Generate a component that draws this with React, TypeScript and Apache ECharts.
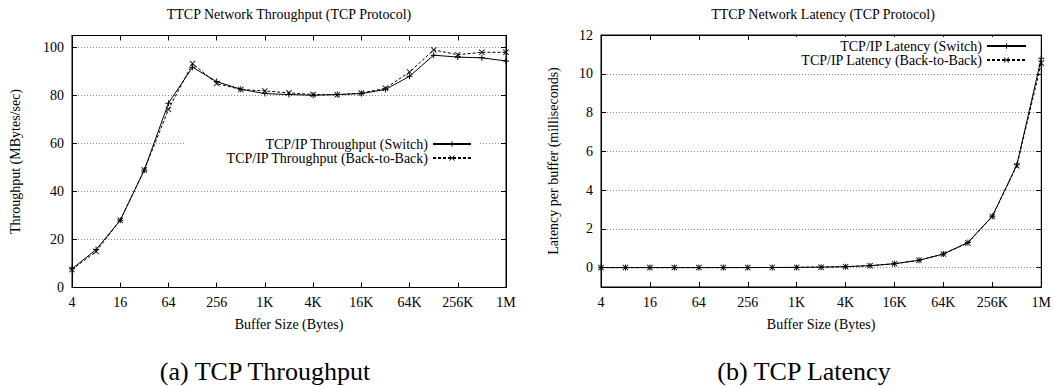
import React, { useEffect, useRef } from "react";
import * as echarts from "echarts";

const FONT = "Liberation Serif, serif";

const bufferSizes = [
  4, 8, 16, 32, 64, 128, 256, 512, 1024, 2048, 4096, 8192, 16384, 32768,
  65536, 131072, 262144, 524288, 1048576,
];

const throughputSwitch = [
  7.8, 15.8, 28, 49, 76.8, 91.8, 85.8, 82.6, 80.8, 80.4, 80.1, 80.4, 80.8,
  82.5, 88, 96.8, 96, 95.7, 94.4,
];
const throughputBackToBack = [
  7.5, 15, 28, 49, 74.2, 93.3, 85, 82.5, 81.9, 81.1, 80.4, 80.3, 81, 83, 89.8,
  99, 97, 98, 98,
];

const latencySwitch = [
  0.0005, 0.0005, 0.0006, 0.0007, 0.0008, 0.0014, 0.003, 0.006, 0.012, 0.025,
  0.05, 0.1, 0.2, 0.38, 0.7, 1.3, 2.65, 5.3, 10.8,
];
const latencyBackToBack = [
  0.0005, 0.0005, 0.0006, 0.0007, 0.0009, 0.0013, 0.003, 0.006, 0.012, 0.025,
  0.05, 0.1, 0.2, 0.38, 0.7, 1.27, 2.64, 5.25, 10.55,
];

const seriesNames = [
  "TCP/IP Throughput (Switch)",
  "TCP/IP Throughput (Back-to-Back)",
  "TCP/IP Latency (Switch)",
  "TCP/IP Latency (Back-to-Back)",
];

const titles = [
  "TTCP Network Throughput (TCP Protocol)",
  "TTCP Network Latency (TCP Protocol)",
];
const captions = ["(a) TCP Throughput", "(b) TCP Latency"];
const xAxisName = "Buffer Size (Bytes)";
const yAxisNames = ["Throughput (MBytes/sec)", "Latency per buffer (milliseconds)"];

const PLUS =
  "path://M0,0.42L1,0.42L1,0.58L0,0.58Z M0.42,0L0.58,0L0.58,1L0.42,1Z";
const CROSS =
  "path://M0.1,0L0.5,0.4L0.9,0L1,0.1L0.6,0.5L1,0.9L0.9,1L0.5,0.6L0.1,1L0,0.9L0.4,0.5L0,0.1Z";

function sizeLabel(v: number): string {
  const s = Math.round(Math.pow(2, v));
  if (s >= 1048576) return s / 1048576 + "M";
  if (s >= 1024) return s / 1024 + "K";
  return String(s);
}

function toPoints(values: number[]) {
  return bufferSizes.map((s, i) => [Math.log2(s), values[i]]);
}

export default function App() {
  const ref = useRef<HTMLDivElement>(null);
  useEffect(() => {
    if (!ref.current) return;
    const chart = echarts.init(ref.current, undefined, { renderer: "svg" });
    const black = "#000";
    const labelStyle = { color: black, fontSize: 14, fontFamily: FONT };
    const gridLine = {
      show: true,
      lineStyle: { color: "#8a8a8a", type: [1, 2] as any, width: 1 },
    };
    const tick = { show: true, inside: true, length: 5, lineStyle: { color: black } };
    const mainX = (gridIndex: number) => ({
      gridIndex,
      type: "value",
      min: 2,
      max: 20,
      interval: 2,
      position: "bottom",
      z: 3,
      name: xAxisName,
      nameLocation: "middle",
      nameGap: 30,
      nameTextStyle: labelStyle,
      axisLine: { show: true, onZero: false, lineStyle: { color: black, width: 1 } },
      axisTick: tick,
      axisLabel: { ...labelStyle, margin: 8, formatter: sizeLabel },
      splitLine: { show: false },
    });
    const mirrorX = (gridIndex: number) => ({
      gridIndex,
      type: "value",
      min: 2,
      max: 20,
      interval: 2,
      position: "top",
      z: 3,
      axisLine: { show: true, onZero: false, lineStyle: { color: black, width: 1 } },
      axisTick: tick,
      axisLabel: { show: false },
      splitLine: { show: false },
    });
    const grid = (left: number, top: number, width: number) => ({
      left,
      top,
      width,
      height: 252,
      show: true,
      borderColor: black,
      borderWidth: 1,
      backgroundColor: "transparent",
    });
    const line = (
      name: string,
      axis: number,
      values: number[],
      symbol: string,
      dashed: boolean
    ) => ({
      name,
      type: "line",
      xAxisIndex: axis,
      yAxisIndex: axis,
      data: toPoints(values),
      symbol,
      symbolSize: 6,
      clip: false,
      z: 4,
      lineStyle: { color: black, width: 1, type: dashed ? [3, 2] : "solid" },
      itemStyle: { color: black },
    });
    const option: any = {
      animation: false,
      textStyle: { fontFamily: FONT },
      grid: [grid(72, 35.5, 434), grid(601, 35, 442)],
      xAxis: [mainX(0), mirrorX(0), mainX(1), mirrorX(1)],
      yAxis: [
        {
          gridIndex: 0,
          type: "value",
          min: 0,
          max: 105,
          interval: 20,
          position: "left",
          name: yAxisNames[0],
          nameLocation: "middle",
          nameGap: 50,
          nameTextStyle: labelStyle,
          axisLine: { show: true, onZero: false, lineStyle: { color: black } },
          axisTick: tick,
          axisLabel: {
            ...labelStyle,
            margin: 8,
            formatter: (v: number) => (v % 20 === 0 ? String(v) : ""),
          },
          splitLine: gridLine,
        },
        {
          gridIndex: 0,
          type: "value",
          min: 0,
          max: 105,
          interval: 20,
          position: "right",
          axisLine: { show: true, onZero: false, lineStyle: { color: black } },
          axisTick: tick,
          axisLabel: { show: false },
          splitLine: { show: false },
        },
        {
          gridIndex: 1,
          type: "value",
          min: -1,
          max: 12,
          splitNumber: 6,
          position: "left",
          name: yAxisNames[1],
          nameLocation: "middle",
          nameGap: 41,
          nameTextStyle: labelStyle,
          axisLine: { show: true, onZero: false, lineStyle: { color: black } },
          axisTick: tick,
          axisLabel: {
            ...labelStyle,
            margin: 8,
            formatter: (v: number) => (v % 2 === 0 ? String(v) : ""),
          },
          splitLine: gridLine,
        },
        {
          gridIndex: 1,
          type: "value",
          min: -1,
          max: 12,
          splitNumber: 6,
          position: "right",
          axisLine: { show: true, onZero: false, lineStyle: { color: black } },
          axisTick: tick,
          axisLabel: { show: false },
          splitLine: { show: false },
        },
      ],
      legend: [
        {
          data: [seriesNames[0], seriesNames[1]],
          orient: "vertical",
          align: "right",
          right: 574,
          top: 135,
          itemWidth: 38,
          itemHeight: 7,
          itemGap: 0,
          padding: [2, 8, 2, 40],
          backgroundColor: "#fff",
          textStyle: labelStyle,
        },
        {
          data: [seriesNames[2], seriesNames[3]],
          orient: "vertical",
          align: "right",
          right: 21,
          top: 37,
          itemWidth: 39,
          itemHeight: 7,
          itemGap: 0,
          padding: [2, 6, 2, 6],
          backgroundColor: "#fff",
          textStyle: labelStyle,
        },
      ],
      series: [
        line(seriesNames[0], 0, throughputSwitch, PLUS, false),
        line(seriesNames[1], 0, throughputBackToBack, CROSS, true),
        line(seriesNames[2], 2, latencySwitch, PLUS, false),
        line(seriesNames[3], 2, latencyBackToBack, CROSS, true),
      ],
      graphic: [
        { x: 289, y: 14, text: titles[0], size: 14 },
        { x: 823, y: 14, text: titles[1], size: 14 },
        { x: 265, y: 371, text: captions[0], size: 26 },
        { x: 804, y: 371, text: captions[1], size: 26 },
      ].map((t) => ({
        type: "text",
        x: t.x,
        y: t.y,
        style: {
          text: t.text,
          fill: black,
          fontSize: t.size,
          fontFamily: FONT,
          textAlign: "center",
          textVerticalAlign: "middle",
        },
      })),
    };
    chart.setOption(option);
    return () => chart.dispose();
  }, []);
  return (
    <div
      ref={ref}
      style={{
        position: "fixed",
        left: 0,
        top: 0,
        width: 1054,
        height: 386,
        background: "#fff",
      }}
    />
  );
}
